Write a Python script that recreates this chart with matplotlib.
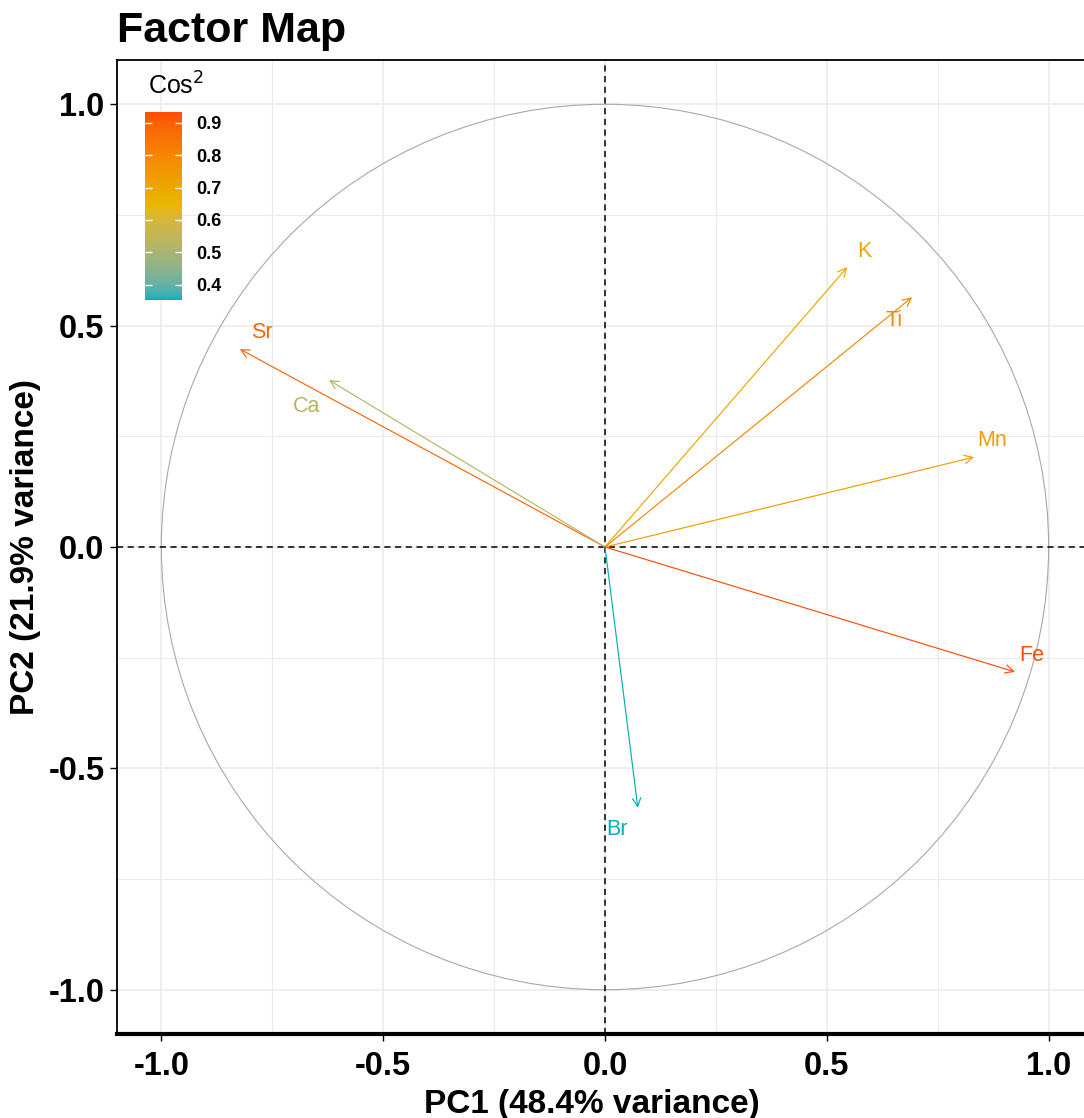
import numpy as np
import matplotlib
matplotlib.use("Agg")
import matplotlib.pyplot as plt
from matplotlib.colors import ListedColormap, Normalize, to_rgb
from matplotlib.patches import Circle
from matplotlib import font_manager

# variable coordinates on the first two PCs
variables = ["Sr", "Ca", "K", "Ti", "Mn", "Fe", "Br"]
pc1 = [-0.823, -0.622, 0.546, 0.692, 0.832, 0.924, 0.074]
pc2 = [0.447, 0.377, 0.632, 0.564, 0.203, -0.282, -0.589]
cos2 = [a * a + b * b for a, b in zip(pc1, pc2)]

ticks = [-1.0, -0.5, 0.0, 0.5, 1.0]
cb_ticks = [0.4, 0.5, 0.6, 0.7, 0.8, 0.9]
gradient = ["#00AFBB", "#E7B800", "#FC4E07"]

# label offsets (points) mimicking the repelled labels
label_offset = {"Sr": (16, 12), "Ca": (-16, -19), "K": (12, 11), "Ti": (-13, -17),
                "Mn": (13, 12), "Fe": (12, 12), "Br": (-15, -16)}


# ggplot interpolates gradients in Lab space, so do the same here
def srgb_to_lab(c):
    c = np.asarray(c, float)
    lin = np.where(c <= 0.04045, c / 12.92, ((c + 0.055) / 1.055) ** 2.4)
    m = np.array([[0.4124, 0.3576, 0.1805], [0.2126, 0.7152, 0.0722], [0.0193, 0.1192, 0.9505]])
    xyz = m @ lin / np.array([0.95047, 1.0, 1.08883])
    f = np.where(xyz > 0.008856, np.cbrt(xyz), 7.787 * xyz + 16 / 116)
    return np.array([116 * f[1] - 16, 500 * (f[0] - f[1]), 200 * (f[1] - f[2])])


def lab_to_srgb(lab):
    L, a, b = lab
    fy = (L + 16) / 116
    f = np.array([fy + a / 500, fy, fy - b / 200])
    xyz = np.where(f ** 3 > 0.008856, f ** 3, (f - 16 / 116) / 7.787) * np.array([0.95047, 1.0, 1.08883])
    minv = np.array([[3.2406, -1.5372, -0.4986], [-0.9689, 1.8758, 0.0415], [0.0557, -0.2040, 1.0570]])
    lin = np.clip(minv @ xyz, 0, 1)
    return np.where(lin <= 0.0031308, 12.92 * lin, 1.055 * lin ** (1 / 2.4) - 0.055)


labs = [srgb_to_lab(to_rgb(c)) for c in gradient]
cols = []
for t in np.linspace(0, 1, 256):
    seg = min(int(t * 2), 1)
    u = t * 2 - seg
    cols.append(np.clip(lab_to_srgb(labs[seg] * (1 - u) + labs[seg + 1] * u), 0, 1))
cmap = ListedColormap(cols)
norm = Normalize(vmin=min(cos2), vmax=max(cos2))

names = {f.name for f in font_manager.fontManager.ttflist}
font = "Liberation Sans" if "Liberation Sans" in names else "DejaVu Sans"
plt.rcParams["font.family"] = font
plt.rcParams["axes.unicode_minus"] = False

fig = plt.figure(figsize=(10.84, 11.18), dpi=100)
ax = fig.add_axes([117 / 1084, 84 / 1118, 976 / 1084, 974 / 1118])
ax.set_xlim(-1.1, 1.1)
ax.set_ylim(-1.1, 1.1)

# grid
ax.set_xticks(ticks)
ax.set_yticks(ticks)
ax.set_xticks([-0.75, -0.25, 0.25, 0.75], minor=True)
ax.set_yticks([-0.75, -0.25, 0.25, 0.75], minor=True)
ax.grid(True, which="major", color="#EBEBEB", lw=1.1)
ax.grid(True, which="minor", color="#EBEBEB", lw=0.8)
ax.tick_params(which="minor", length=0)
ax.set_axisbelow(True)

ax.add_patch(Circle((0, 0), 1.0, fill=False, ec="#A8A8A8", lw=0.8, zorder=2))
ax.axhline(0, color="black", ls=(0, (4, 3)), lw=1.1, zorder=2)
ax.axvline(0, color="black", ls=(0, (4, 3)), lw=1.1, zorder=2)

for name, x, y, c in zip(variables, pc1, pc2, cos2):
    col = cmap(norm(c))
    ax.annotate("", xy=(x, y), xytext=(0, 0),
                arrowprops=dict(arrowstyle="->,head_length=0.6,head_width=0.3",
                                color=col, lw=0.85, shrinkA=0, shrinkB=0), zorder=3)
    ax.annotate(name, xy=(x, y), xytext=label_offset[name], textcoords="offset points",
                ha="center", va="center", fontsize=15.5, color=col, zorder=4)

ax.set_xticklabels([f"{t:.1f}" for t in ticks], fontsize=23.5, fontweight="bold")
ax.set_yticklabels([f"{t:.1f}" for t in ticks], fontsize=23.5, fontweight="bold")
ax.tick_params(which="major", length=5, width=1, color="black", pad=4)
ax.tick_params(axis="x", which="major", pad=7)

for s in ["left", "top", "right"]:
    ax.spines[s].set_linewidth(1.3)
ax.spines["bottom"].set_linewidth(3)

fig.text(592 / 1084, 1 - 1113 / 1118, "PC1 (48.4% variance)", fontsize=24,
         fontweight="bold", ha="center", va="baseline")
fig.text(26 / 1084, 1 - 547 / 1118, "PC2 (21.9% variance)", fontsize=24,
         fontweight="bold", ha="center", va="center", rotation=90)
fig.text(117 / 1084, 1 - 42 / 1118, "Factor Map", fontsize=31,
         fontweight="bold", ha="left", va="baseline")

# colour bar legend
cax = fig.add_axes([145 / 1084, 1 - 300 / 1118, 37 / 1084, 188 / 1118])
sm = plt.cm.ScalarMappable(norm=norm, cmap=cmap)
cb = fig.colorbar(sm, cax=cax, ticks=cb_ticks)
cb.outline.set_visible(False)
cb.ax.set_yticklabels([f"{t:.1f}" for t in cb_ticks], fontsize=13, fontweight="bold")
cb.ax.tick_params(axis="y", direction="in", color="white", length=5, width=1,
                  left=True, right=True, labelleft=False, labelright=True, pad=10)
fig.text(148 / 1084, 1 - 95 / 1118, r"Cos$^2$", fontsize=18, ha="left", va="baseline")

fig.savefig("out.png", dpi=100)
